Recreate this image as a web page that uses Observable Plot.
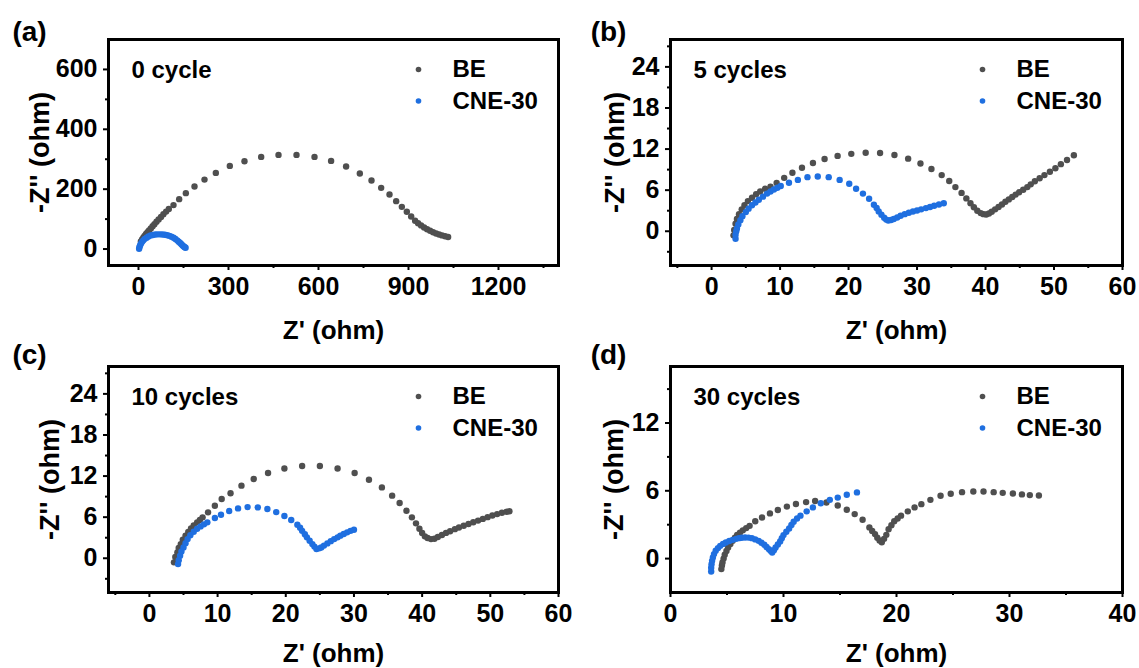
<!DOCTYPE html>
<html><head><meta charset="utf-8">
<script src="https://cdn.jsdelivr.net/npm/d3@7"></script>
<script src="https://cdn.jsdelivr.net/npm/@observablehq/plot@0.6"></script>
<style>
html,body{margin:0;padding:0;background:#fff;}
#fig{position:relative;width:1139px;height:668px;overflow:hidden;background:#fff;}
#fig svg{position:absolute;}
</style></head><body><div id="fig"></div>
<script>
// ---------- data ----------
const seriesNames = ["BE", "CNE-30"];
const xTitle = "Z' (ohm)";
const yTitle = "-Z'' (ohm)";
const panelTags = ["(a)", "(b)", "(c)", "(d)"];
const cycleLabels = ["0 cycle", "5 cycles", "10 cycles", "30 cycles"];

// (a) 0 cycle
const aBEx = [8,12,16,20,25,30,35,41,47,53,60,67,75,83,92,101,116.7,135.6,157.8,186.7,220,257.8,304.4,353.3,408.9,466.7,526.7,586.7,642,692,737.8,776.7,808.9,836.7,858.9,877.8,894.4,908.9,922,932,942,952,962,972,982,992,1002,1012,1022,1032];
const aBEy = [25,32,38,44,50,56,62,69,76,83,91,99,107,116,125,134,146.7,166.7,186.7,208.9,232,254.4,277.8,293.3,307.8,314.4,314.4,307.8,294.4,275.6,252.2,228.9,204.4,182.2,160,141,124.4,108.9,94.4,86,79,72,66,61,56,52,48.5,45.5,42.5,40];
const aCNEx = [2,3,5,8,12,16,21,27,33,40,48,56,64,72,80,88,96,103,110,117,123,129,134,139,143,147,151,154,157];
const aCNEy = [1,6,12,18,24,29,34,38,42,45,47,48.5,49,49,48.5,47.5,46,44,41,37.5,33.5,29,24.5,20,16,12,8.5,6,4.5];

// (b) 5 cycles
const bBEx = [3.2,3.3,3.5,3.7,4,4.4,4.8,5.3,5.9,6.5,7.1,7.8,8.6,9.5,10.6,11.8,13.2,14.8,16.5,18.4,20.4,22.5,24.6,26.7,28.7,30.5,32.1,33.6,34.7,35.6,36.5,37.2,37.8,38.3,38.8,39.3,39.7,40.1,40.5,40.9,41.4,41.9,42.4,42.9,43.4,43.9,44.4,44.9,45.5,46.1,46.6,47.2,47.9,48.6,49.4,50.2,51.0,51.9,52.9];
const bBEy = [-0.6,0.2,1.1,1.8,2.5,3.2,3.8,4.4,4.9,5.4,5.8,6.2,6.5,7.04,7.8,8.55,9.28,9.96,10.55,11.0,11.3,11.47,11.42,11.13,10.6,9.9,9.08,8.2,7.33,6.45,5.6,4.8,4.1,3.5,3.0,2.65,2.5,2.45,2.6,2.85,3.2,3.55,3.9,4.3,4.65,5.0,5.35,5.7,6.05,6.45,6.85,7.3,7.75,8.2,8.7,9.2,9.8,10.4,11.1];
const bCNEx = [3.5,3.5,3.6,3.7,3.9,4.2,4.5,5,5.4,5.9,6.4,6.9,7.5,8.1,8.6,9.1,9.6,10.1,11.3,12.6,14.0,15.5,17.1,18.7,20.1,21.1,22.1,23.0,23.7,24.1,24.4,24.8,25.2,25.5,25.8,26.2,26.6,27.1,27.6,28.2,28.8,29.4,30.0,30.6,31.3,31.9,32.5,33.2,33.9];
const bCNEy = [-1.1,-0.5,0.0,0.4,1.0,1.6,2.2,2.8,3.3,3.8,4.2,4.6,5.05,5.5,5.8,6.1,6.35,6.6,7.08,7.5,7.9,8.0,7.9,7.5,6.94,6.2,5.5,4.75,3.87,3.4,2.9,2.4,1.97,1.7,1.58,1.65,1.8,2.0,2.26,2.5,2.7,2.88,3.03,3.2,3.38,3.55,3.72,3.9,4.1];

// (c) 10 cycles
const cBEx = [3.6,3.8,4.1,4.3,4.6,4.9,5.3,5.7,6.1,6.5,7.0,7.4,7.8,8.6,9.6,10.6,11.9,13.5,15.3,17.4,19.8,22.4,25.0,27.6,30.1,32.2,34.1,35.6,36.7,37.7,38.5,39.1,39.6,40.0,40.4,40.8,41.3,41.8,42.3,42.9,43.5,44.1,44.8,45.4,46.1,46.8,47.5,48.2,48.9,49.6,50.3,51.0,51.7,52.4,52.8];
const cBEy = [-0.6,0.2,0.85,1.5,2.07,2.7,3.3,3.85,4.36,4.8,5.24,5.6,5.97,6.7,7.67,8.65,9.5,10.6,11.57,12.45,13.1,13.47,13.47,13.1,12.45,11.47,10.35,9.14,8.06,6.94,5.97,5.1,4.3,3.7,3.2,2.95,2.8,2.85,3.1,3.4,3.7,3.95,4.25,4.5,4.75,5.0,5.25,5.5,5.75,6.0,6.25,6.45,6.65,6.8,6.86];
const cCNEx = [4.2,4.3,4.5,4.7,5.0,5.3,5.6,6.0,6.5,7.0,7.5,8.0,8.5,9.6,10.5,11.7,13.0,14.4,15.9,17.3,18.6,19.8,20.8,21.7,22.1,22.4,22.8,23.1,23.5,23.9,24.2,24.5,24.9,25.2,25.6,26.1,26.6,27.1,27.6,28.0,28.5,29.0,29.5,30.0];
const cCNEy = [-0.85,-0.3,0.37,1.0,1.58,2.2,2.8,3.35,3.87,4.3,4.65,4.95,5.24,5.87,6.36,6.9,7.28,7.47,7.43,7.19,6.74,6.16,5.58,4.9,4.45,4.0,3.5,3.05,2.55,2.07,1.7,1.34,1.45,1.58,1.85,2.17,2.5,2.8,3.05,3.3,3.55,3.78,4.0,4.17];

// (d) 30 cycles
const dBEx = [4.5,4.55,4.6,4.7,4.8,4.95,5.1,5.3,5.5,5.7,5.9,6.15,6.4,6.7,7.0,7.5,8.1,8.8,9.5,10.3,11.1,12.0,12.8,13.8,14.8,15.6,16.3,17.0,17.6,17.85,18.1,18.3,18.5,18.7,18.9,19.1,19.3,19.55,19.8,20.1,20.4,21.0,21.6,22.2,23.0,23.9,24.8,25.8,26.8,27.7,28.6,29.4,30.3,31.1,31.8,32.6];
const dBEy = [-0.93,-0.6,-0.34,0.0,0.34,0.67,0.99,1.3,1.58,1.85,2.1,2.3,2.5,2.7,2.9,3.3,3.64,4.0,4.3,4.6,4.83,5.0,5.1,4.97,4.7,4.32,3.94,3.44,2.76,2.45,2.17,1.85,1.6,1.45,1.75,2.1,2.6,2.95,3.3,3.55,3.8,4.18,4.53,4.82,5.2,5.56,5.74,5.88,5.94,5.94,5.88,5.82,5.76,5.68,5.62,5.59];
const dCNEx = [3.6,3.6,3.63,3.68,3.75,3.85,4.0,4.2,4.4,4.65,4.9,5.2,5.5,5.8,6.05,6.3,6.6,6.9,7.2,7.5,7.8,8.05,8.3,8.5,8.7,8.85,9.0,9.15,9.3,9.5,9.7,9.85,10.0,10.25,10.5,10.7,10.9,11.2,11.5,12.05,12.6,13.3,14.1,14.8,15.6,16.5];
const dCNEy = [-1.14,-0.8,-0.49,-0.2,0.1,0.4,0.69,0.93,1.13,1.3,1.43,1.56,1.66,1.75,1.81,1.85,1.87,1.86,1.81,1.7,1.57,1.4,1.22,1.03,0.84,0.7,0.54,0.75,0.99,1.25,1.52,1.8,2.08,2.38,2.67,2.97,3.26,3.55,3.8,4.18,4.53,4.9,5.2,5.4,5.65,5.86];

// tick values
const aXTicks = [0,300,600,900,1200], aXMinor = [150,450,750,1050,1350];
const aYTicks = [0,200,400,600],      aYMinor = [100,300,500];
const bXTicks = [0,10,20,30,40,50,60], bXMinor = [-5,5,15,25,35,45,55];
const bYTicks = [0,6,12,18,24],        bYMinor = [-3,3,9,15,21,27];
const dXTicks = [0,10,20,30,40],       dXMinor = [5,15,25,35];
const dYTicks = [0,6,12],              dYMinor = [3,9,15];

// ---------- drawing ----------
const GREY = "#4f4f4f", BLUE = "#1f6fe0";
const FONT = "'Liberation Sans', Arial, sans-serif";
const toRows = (xs, ys) => xs.map((x, i) => ({x, y: ys[i]}));

function panel(c) {
  const svg = Plot.plot({
    width: c.width, height: c.height,
    marginLeft: c.ml, marginRight: c.mr, marginTop: c.mt, marginBottom: c.mb,
    x: {domain: c.xDomain}, y: {domain: c.yDomain},
    style: {fontFamily: FONT, fontWeight: "bold", fontSize: "24px", color: "#000", background: "transparent", overflow: "visible"},
    marks: [
      Plot.axisX({ticks: c.xMinor, tickSize: 3, tickFormat: () => "", strokeWidth: 2, label: null}),
      Plot.axisX({ticks: c.xTicks, tickSize: 5, tickPadding: 7, strokeWidth: 2, fontSize: 25, label: null, tickFormat: d => String(d)}),
      Plot.axisY({ticks: c.yMinor, tickSize: 3, tickFormat: () => "", strokeWidth: 2, label: null}),
      Plot.axisY({ticks: c.yTicks, tickSize: 5, tickPadding: 6, strokeWidth: 2, fontSize: 25, label: null, tickFormat: d => String(d)}),
      Plot.dot(toRows(c.beX, c.beY), {x: "x", y: "y", r: 3.2, fill: GREY}),
      Plot.dot(toRows(c.cneX, c.cneY), {x: "x", y: "y", r: 3.2, fill: BLUE}),
      Plot.frame({stroke: "#000", strokeWidth: 3}),
      Plot.text([c.cycle], {x: null, y: null, frameAnchor: "top-left", dx: 23, dy: 31, textAnchor: "start", lineAnchor: "middle", fontSize: 24}),
      Plot.dot([0], {x: null, y: null, frameAnchor: "top-right", dx: -140, dy: 30, r: 2.8, fill: GREY}),
      Plot.dot([0], {x: null, y: null, frameAnchor: "top-right", dx: -140, dy: 61.5, r: 2.8, fill: BLUE}),
      Plot.text([seriesNames[0]], {x: null, y: null, frameAnchor: "top-right", dx: -106, dy: 30, textAnchor: "start", lineAnchor: "middle", fontSize: 24}),
      Plot.text([seriesNames[1]], {x: null, y: null, frameAnchor: "top-right", dx: -106, dy: 61.5, textAnchor: "start", lineAnchor: "middle", fontSize: 24}),
      Plot.text([xTitle], {x: null, y: null, frameAnchor: "bottom", dy: c.xTitleDy, textAnchor: "middle", lineAnchor: "middle", fontSize: 26}),
      Plot.text([yTitle], {x: null, y: null, frameAnchor: "left", dx: c.yTitleDx, rotate: -90, textAnchor: "middle", lineAnchor: "middle", fontSize: 27}),
      Plot.text([c.tag], {x: null, y: null, frameAnchor: "top-left", dx: c.tagDx, dy: c.tagDy, textAnchor: "middle", lineAnchor: "middle", fontSize: 28})
    ]
  });
  svg.style.left = c.left + "px";
  svg.style.top = c.top + "px";
  document.getElementById("fig").appendChild(svg);
}

const topRow = {top: 0, height: 326, mt: 39, mb: 61, tagDy: -7, xTitleDy: 65};
const botRow = {top: 326, height: 342, mt: 40, mb: 76, tagDy: -11, xTitleDy: 61};
const leftCol = {left: 0, width: 562, ml: 108, mr: 4, tagDx: -79};
const rightCol = {left: 562, width: 577, ml: 108, mr: 17, tagDx: -62};

panel({...topRow, ...leftCol, tag: panelTags[0], cycle: cycleLabels[0], yTitleDx: -68,
  xDomain: [-100, 1400], yDomain: [-55, 700], xTicks: aXTicks, xMinor: aXMinor, yTicks: aYTicks, yMinor: aYMinor,
  beX: aBEx, beY: aBEy, cneX: aCNEx, cneY: aCNEy});
panel({...topRow, ...rightCol, tag: panelTags[1], cycle: cycleLabels[1], yTitleDx: -55,
  xDomain: [-6, 60], yDomain: [-5, 28], xTicks: bXTicks, xMinor: bXMinor, yTicks: bYTicks, yMinor: bYMinor,
  beX: bBEx, beY: bBEy, cneX: bCNEx, cneY: bCNEy});
panel({...botRow, ...leftCol, tag: panelTags[2], cycle: cycleLabels[2], yTitleDx: -58,
  xDomain: [-6, 60], yDomain: [-5, 28], xTicks: bXTicks, xMinor: bXMinor, yTicks: bYTicks, yMinor: bYMinor,
  beX: cBEx, beY: cBEy, cneX: cCNEx, cneY: cCNEy});
panel({...botRow, ...rightCol, tag: panelTags[3], cycle: cycleLabels[3], yTitleDx: -56,
  xDomain: [0, 40], yDomain: [-3, 17], xTicks: dXTicks, xMinor: dXMinor, yTicks: dYTicks, yMinor: dYMinor,
  beX: dBEx, beY: dBEy, cneX: dCNEx, cneY: dCNEy});
</script></body></html>
